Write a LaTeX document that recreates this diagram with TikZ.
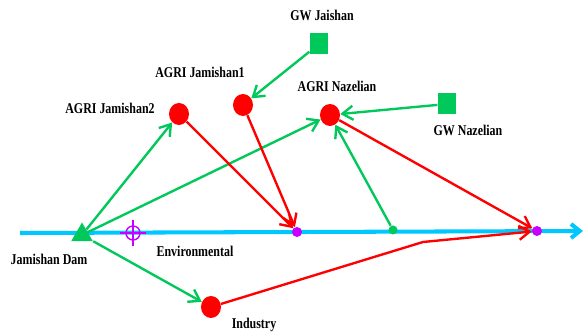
\documentclass[tikz,border=0pt]{standalone}
\usepackage{fontspec}
\newfontfamily\lblfont[FakeStretch=0.8]{Liberation Serif}
\usetikzlibrary{arrows.meta,shapes.geometric}

\definecolor{rivercol}{RGB}{0,200,255}
\definecolor{supcol}{RGB}{0,200,90}
\definecolor{retcol}{RGB}{255,0,0}
\definecolor{nodecol}{RGB}{200,0,255}

\tikzset{
  demand/.style={ellipse, fill=retcol, inner sep=0pt, minimum width=0.4cm, minimum height=0.44cm},
  gwsrc/.style={rectangle, fill=supcol, inner sep=0pt, minimum width=0.37cm, minimum height=0.42cm},
  reservoir/.style={regular polygon, regular polygon sides=3, fill=supcol, inner sep=0pt, minimum size=0.5cm},
  rivnode/.style={circle, fill=nodecol, inner sep=0pt, minimum size=0.2cm},
  lbl/.style={font=\lblfont\bfseries\fontsize{8.5}{10}\selectfont, inner sep=0pt},
  supflow/.style={supcol, line width=1.35pt, -{Straight Barb[length=6pt,width=8pt]}},
  retflow/.style={retcol, line width=1.35pt, -{Straight Barb[length=6pt,width=8pt]}}
}

\begin{document}
\begin{tikzpicture}[x=0.02cm, y=-0.02cm]
    \useasboundingbox (0,0) rectangle (585,333);

    % River
    \coordinate (rstart) at (20,233);
    \coordinate (rend) at (583,231);
    \draw[rivercol, line width=2.3pt, -{Straight Barb[length=5pt,width=8pt]}] (rstart) -- (rend);

    % Reservoir, demand sites and groundwater
    \node[reservoir] (dam) at (82,235) {};
    \node[demand] (j2) at (179,114) {};
    \node[demand] (j1) at (243,105) {};
    \node[demand] (naz) at (330,115) {};
    \node[demand] (ind) at (211,307) {};
    \node[gwsrc] (gwj) at (319,44) {};
    \node[gwsrc] (gwn) at (447,104) {};

    % Nodes on the river
    \node[rivnode] (ret1) at (297,232) {};
    \node[rivnode] (ret2) at (537,231) {};
    \node[circle, fill=supcol, inner sep=0pt, minimum size=0.18cm] (wdr) at (393,230) {};
    \node[circle, draw=nodecol, line width=0.8pt, inner sep=0pt, minimum size=0.28cm] (env) at (133,233) {};
    \draw[nodecol, line width=0.8pt] ([yshift=3pt]env.north) -- ([yshift=-3pt]env.south);
    \draw[nodecol, line width=0.8pt] ([xshift=-3pt]env.west) -- ([xshift=3pt]env.east);

    % Supply links
    \draw[supflow] (dam) -- (j2);
    \draw[supflow] (dam) -- (naz);
    \draw[supflow] (dam) -- (ind);
    \draw[supflow] (gwj) -- (j1);
    \draw[supflow] (gwn) -- (naz);
    \draw[supflow] (wdr) -- (naz);

    % Return flows
    \coordinate (bend) at (423,242);
    \draw[retflow] (j2) -- (ret1);
    \draw[retflow] (j1) -- (ret1);
    \draw[retflow] (naz) -- (ret2);
    \draw[retflow] (ind) -- (bend) -- (ret2);

    % Labels
    \node[lbl] (lgwj) at (322,15) {GW Jaishan};
    \node[lbl] (lj1) at (200,72) {AGRI Jamishan1};
    \node[lbl] (lj2) at (110,108) {AGRI Jamishan2};
    \node[lbl] (lnaz) at (337,86) {AGRI Nazelian};
    \node[lbl] (lgwn) at (468,130) {GW Nazelian};
    \node[lbl] (ldam) at (49,259) {Jamishan Dam};
    \node[lbl] (lenv) at (195,251) {Environmental};
    \node[lbl] (lind) at (254,325) {Industry};
\end{tikzpicture}
\end{document}
